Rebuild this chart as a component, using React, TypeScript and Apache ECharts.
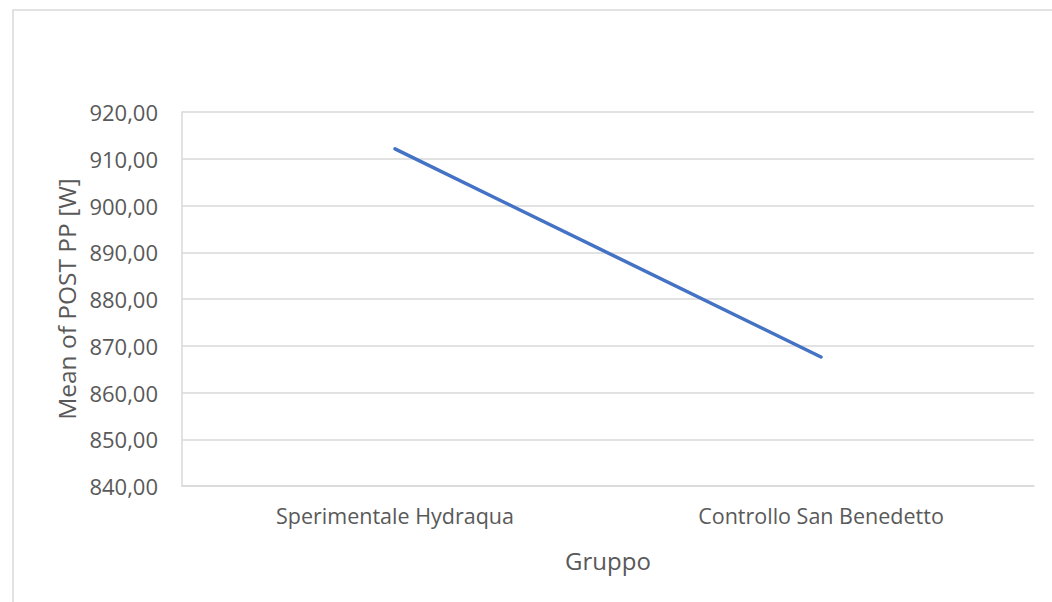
import React, { useEffect, useRef } from "react";
import * as echarts from "echarts";

const categories = ["Sperimentale Hydraqua", "Controllo San Benedetto"];
const meanPostPP = [912.1, 867.6];
const yMin = 840;
const yMax = 920;
const yStep = 10;

const FONT = "Open Sans";
const TEXT = "#595959";
const GRID = "#d9d9d9";

export default function App() {
  const ref = useRef<HTMLDivElement>(null);
  useEffect(() => {
    if (!ref.current) return;
    const chart = echarts.init(ref.current, undefined, { renderer: "svg" });
    chart.setOption({
      animation: false,
      backgroundColor: "#ffffff",
      textStyle: { fontFamily: FONT },
      graphic: [
        {
          type: "rect",
          shape: { x: 13, y: 10, width: 1100, height: 700 },
          style: { fill: "none", stroke: GRID, lineWidth: 1.5 },
          silent: true,
        },
      ],
      grid: { left: 182, right: 18, top: 112, bottom: 116, containLabel: false },
      xAxis: {
        type: "category",
        data: categories,
        boundaryGap: true,
        name: "Gruppo",
        nameLocation: "middle",
        nameGap: 62,
        nameTextStyle: { color: TEXT, fontSize: 24, fontFamily: FONT },
        axisLine: { show: true, lineStyle: { color: GRID, width: 1.5 } },
        axisTick: { show: false },
        axisLabel: { color: TEXT, fontSize: 21.5, fontFamily: FONT, margin: 18 },
      },
      yAxis: {
        type: "value",
        min: yMin,
        max: yMax,
        interval: yStep,
        name: "Mean of POST PP [W]",
        nameLocation: "middle",
        nameGap: 102,
        nameTextStyle: { color: TEXT, fontSize: 24.5, fontFamily: FONT },
        axisLine: { show: true, lineStyle: { color: GRID, width: 1.5 } },
        axisTick: { show: false },
        splitLine: { show: true, lineStyle: { color: GRID, width: 1.5 } },
        axisLabel: {
          color: TEXT,
          fontSize: 22,
          fontFamily: FONT,
          margin: 24,
          formatter: (v: number) => v.toFixed(2).replace(".", ","),
        },
      },
      series: [
        {
          type: "line",
          data: meanPostPP,
          symbol: "none",
          lineStyle: { color: "#4472C4", width: 3.5, cap: "round" },
        },
      ],
    });
    return () => chart.dispose();
  }, []);
  return (
    <div
      ref={ref}
      style={{ position: "absolute", left: 0, top: 0, width: 1052, height: 602 }}
    />
  );
}
